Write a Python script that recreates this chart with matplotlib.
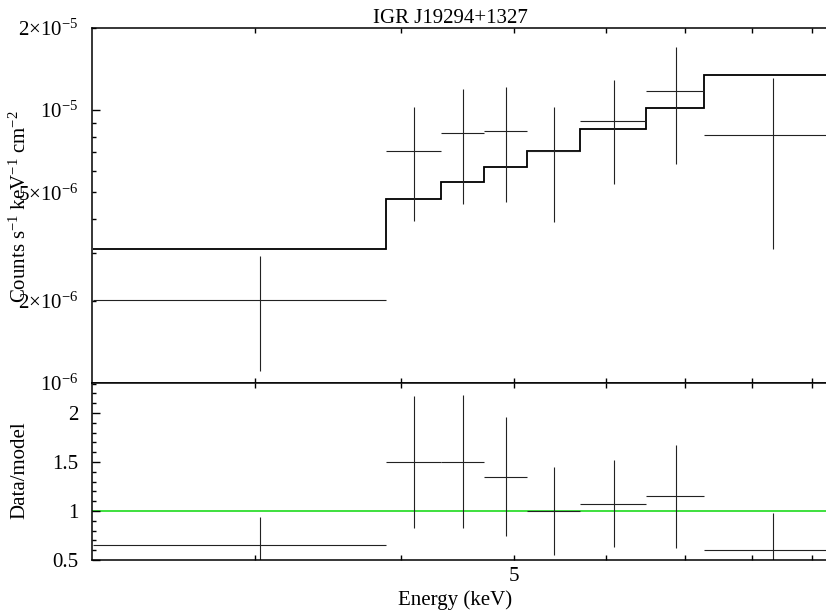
import numpy as np
import matplotlib
matplotlib.use("Agg")
import matplotlib.pyplot as plt
from matplotlib.ticker import NullLocator

plt.rcParams['font.family'] = ['Liberation Serif', 'DejaVu Serif']
plt.rcParams['mathtext.fontset'] = 'custom'
plt.rcParams['mathtext.rm'] = 'Liberation Serif'
plt.rcParams['mathtext.it'] = 'Liberation Serif:italic'

# spectrum bins (keV)
e_lo = [2.18, 3.884, 4.327, 4.716, 5.127, 5.695, 6.483, 7.278]
e_hi = [3.884, 4.327, 4.716, 5.127, 5.695, 6.483, 7.278, 9.40]
e_mid = [3.03, 4.105, 4.52, 4.92, 5.41, 6.09, 6.88, 8.34]

# unfolded counts and 1-sigma range
flux = [2.01e-6, 7.10e-6, 8.22e-6, 8.36e-6, 7.10e-6, 9.15e-6, 1.172e-5, 8.11e-6]
flux_up = [2.92e-6, 1.029e-5, 1.192e-5, 1.212e-5, 1.029e-5, 1.292e-5, 1.708e-5, 1.311e-5]
flux_dn = [1.106e-6, 3.92e-6, 4.54e-6, 4.62e-6, 3.90e-6, 5.38e-6, 6.36e-6, 3.10e-6]
model = [3.10e-6, 4.73e-6, 5.47e-6, 6.20e-6, 7.10e-6, 8.51e-6, 1.018e-5, 1.345e-5]

title = "IGR J19294+1327"

e_lo, e_hi, e_mid = map(np.array, (e_lo, e_hi, e_mid))
flux, flux_up, flux_dn, model = map(np.array, (flux, flux_up, flux_dn, model))
edges = np.append(e_lo, e_hi[-1])
ratio = flux / model
ratio_up = flux_up / model
ratio_dn = flux_dn / model

FS = 15
W, H = 826, 615
fig = plt.figure(figsize=(W / 100, H / 100), dpi=100)
left = 92 / W
width = (834 - 92) / W
ax1 = fig.add_axes([left, 1 - 383 / H, width, 355 / H])
ax2 = fig.add_axes([left, 1 - 560 / H, width, 177 / H], sharex=ax1)

xerr = [e_mid - e_lo, e_hi - e_mid]
ax1.errorbar(e_mid, flux, xerr=xerr, yerr=[flux - flux_dn, flux_up - flux],
             fmt='none', ecolor='#222222', elinewidth=0.8, capsize=0)
ax1.stairs(model, edges, baseline=None, color='black', lw=1.3)

ax2.axhline(1.0, color='#3ee03e', lw=1.4, zorder=1)
ax2.errorbar(e_mid, ratio, xerr=xerr, yerr=[ratio - ratio_dn, ratio_up - ratio],
             fmt='none', ecolor='#222222', elinewidth=0.8, capsize=0, zorder=2)

for ax in (ax1, ax2):
    ax.set_xscale('log')
    ax.set_xlim(2.175, 9.40)
    ax.xaxis.set_minor_locator(NullLocator())
    for s in ax.spines.values():
        s.set_linewidth(1.1)
    ax.tick_params(which='both', direction='in', top=True, right=True,
                   labelsize=FS, width=1.0)
    ax.tick_params(axis='x', which='major', length=3.6, pad=5)
    ax.tick_params(axis='y', which='major', length=6, pad=10)
    ax.tick_params(axis='y', which='minor', length=3)

ax2.set_xticks([3, 4, 5, 6, 7, 8, 9], ['', '', '5', '', '', '', ''])
ax1.tick_params(axis='x', labelbottom=False)

# counts panel
ax1.set_yscale('log')
ax1.set_ylim(1e-6, 2e-5)
ax1.set_yticks([1e-6, 1e-5], [r'$10^{-6}$', r'$10^{-5}$'])
minor_vals = [2e-6, 3e-6, 4e-6, 5e-6, 6e-6, 7e-6, 8e-6, 9e-6, 2e-5]
minor_labs = [r'$2{\times}10^{-6}$', '', '', r'$5{\times}10^{-6}$', '', '', '', '',
              r'$2{\times}10^{-5}$']
ax1.set_yticks(minor_vals, minor_labs, minor=True)
ax1.tick_params(axis='y', which='minor', labelsize=FS, pad=10)

# ratio panel
ax2.set_ylim(0.5, 2.306)
ax2.set_yticks([0.5, 1, 1.5, 2], ['0.5', '1', '1.5', '2'])
ax2.set_yticks([v for v in np.arange(0.6, 2.35, 0.1) if abs(v * 2 - round(v * 2)) > 1e-6],
               minor=True)

fig.text(450.5 / W, 1 - 23 / H, title, ha='center', va='baseline', fontsize=FS)
fig.text(455 / W, 1 - 605 / H, 'Energy (keV)', ha='center', va='baseline', fontsize=FS)
fig.text(20 / W, 1 - 207 / H, r'Counts s$^{-1}$ keV$^{-1}$ cm$^{-2}$', rotation=90,
         ha='center', va='center', fontsize=FS)
fig.text(20 / W, 1 - 470 / H, 'Data/model', rotation=90,
         ha='center', va='center', fontsize=FS)

fig.savefig('out.png', dpi=100)
